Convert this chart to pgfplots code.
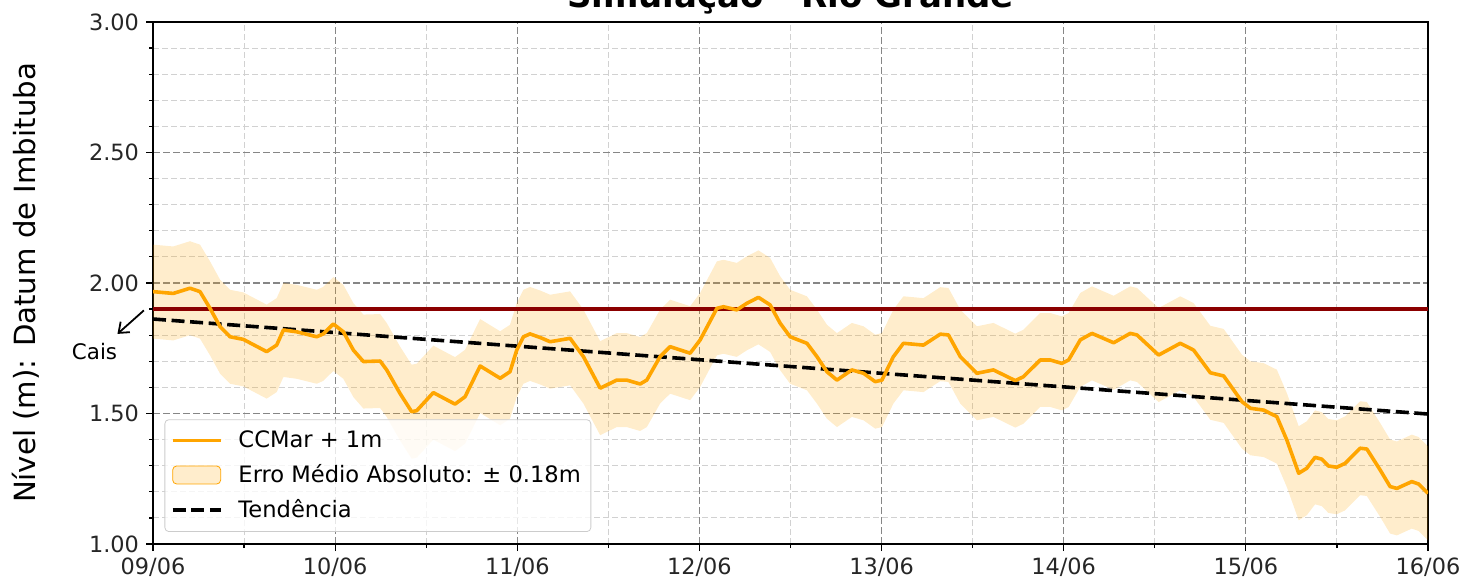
\documentclass[border=0pt]{standalone}
\usepackage{fontspec}
\setmainfont{DejaVu Sans}
\usepackage{pgfplots}
\pgfplotsset{compat=1.18}
\usepackage{pgfplotstable}
\usepgfplotslibrary{fillbetween}
\usetikzlibrary{arrows.meta}

\definecolor{c_line}{HTML}{FFA500}
\definecolor{c_cais}{HTML}{8B0000}

% d = days since 09/06, v = level, u/l = level +/- 0.18
\pgfplotstableread{
d v u l
0.000 1.967 2.147 1.787
0.111 1.960 2.140 1.780
0.203 1.980 2.160 1.800
0.258 1.967 2.147 1.787
0.313 1.903 2.083 1.723
0.368 1.833 2.013 1.653
0.423 1.794 1.974 1.614
0.496 1.784 1.964 1.604
0.624 1.737 1.917 1.557
0.679 1.762 1.942 1.582
0.716 1.820 2.000 1.640
0.789 1.813 1.993 1.633
0.899 1.794 1.974 1.614
0.935 1.805 1.985 1.625
0.990 1.843 2.023 1.663
1.045 1.813 1.993 1.633
1.100 1.743 1.923 1.563
1.155 1.699 1.879 1.519
1.247 1.701 1.881 1.521
1.283 1.667 1.847 1.487
1.356 1.577 1.757 1.397
1.420 1.507 1.687 1.327
1.448 1.511 1.691 1.331
1.539 1.580 1.760 1.400
1.658 1.536 1.716 1.356
1.713 1.564 1.744 1.384
1.796 1.682 1.862 1.502
1.906 1.635 1.815 1.455
1.960 1.660 1.840 1.480
1.997 1.743 1.923 1.563
2.034 1.794 1.974 1.614
2.070 1.805 1.985 1.625
2.130 1.790 1.970 1.610
2.180 1.775 1.955 1.595
2.290 1.788 1.968 1.608
2.363 1.718 1.898 1.538
2.455 1.597 1.777 1.417
2.546 1.628 1.808 1.448
2.601 1.628 1.808 1.448
2.674 1.613 1.793 1.433
2.711 1.628 1.808 1.448
2.784 1.718 1.898 1.538
2.839 1.756 1.936 1.576
2.949 1.731 1.911 1.551
3.004 1.782 1.962 1.602
3.096 1.903 2.083 1.723
3.132 1.909 2.089 1.729
3.205 1.897 2.077 1.717
3.260 1.922 2.102 1.742
3.324 1.945 2.125 1.765
3.388 1.916 2.096 1.736
3.443 1.846 2.026 1.666
3.498 1.794 1.974 1.614
3.590 1.769 1.949 1.589
3.645 1.718 1.898 1.538
3.700 1.660 1.840 1.480
3.755 1.628 1.808 1.448
3.837 1.667 1.847 1.487
3.901 1.654 1.834 1.474
3.965 1.622 1.802 1.442
4.002 1.628 1.808 1.448
4.065 1.718 1.898 1.538
4.120 1.769 1.949 1.589
4.230 1.762 1.942 1.582
4.322 1.804 1.984 1.624
4.367 1.801 1.981 1.621
4.432 1.718 1.898 1.538
4.523 1.654 1.834 1.474
4.614 1.667 1.847 1.487
4.734 1.626 1.806 1.446
4.779 1.641 1.821 1.461
4.871 1.705 1.885 1.525
4.926 1.705 1.885 1.525
4.990 1.692 1.872 1.512
5.027 1.705 1.885 1.525
5.091 1.782 1.962 1.602
5.155 1.807 1.987 1.627
5.274 1.771 1.951 1.591
5.365 1.807 1.987 1.627
5.402 1.801 1.981 1.621
5.521 1.724 1.904 1.544
5.640 1.769 1.949 1.589
5.713 1.743 1.923 1.563
5.805 1.656 1.836 1.476
5.878 1.644 1.824 1.464
5.933 1.590 1.770 1.410
5.979 1.545 1.725 1.365
6.025 1.520 1.700 1.340
6.098 1.513 1.693 1.333
6.135 1.500 1.680 1.320
6.170 1.488 1.668 1.308
6.225 1.398 1.578 1.218
6.290 1.271 1.451 1.091
6.334 1.290 1.470 1.110
6.380 1.332 1.512 1.152
6.417 1.325 1.505 1.145
6.453 1.299 1.479 1.119
6.499 1.294 1.474 1.114
6.545 1.309 1.489 1.129
6.627 1.367 1.547 1.187
6.664 1.364 1.544 1.184
6.737 1.284 1.464 1.104
6.792 1.220 1.400 1.040
6.829 1.213 1.393 1.033
6.911 1.239 1.419 1.059
6.948 1.230 1.410 1.050
7.000 1.194 1.374 1.014
}\nivel

\begin{document}
\begin{tikzpicture}
  \begin{axis}[
    name=ax,
    scale only axis, width=637.5pt, height=261pt,
    xmin=0, xmax=7, ymin=1, ymax=3,
    xtick={0,1,2,3,4,5,6,7},
    xticklabels={09/06,10/06,11/06,12/06,13/06,14/06,15/06,16/06},
    minor x tick num=1,
    ytick={1,1.5,2,2.5,3},
    minor y tick num=4,
    /pgf/number format/assume math mode=true,
    yticklabel style={/pgf/number format/.cd, fixed, fixed zerofill, precision=2},
    tick label style={font=\fontsize{11.2}{13}\selectfont, text=black!85},
    tick pos=left, tick align=outside,
    major tick length=3.5pt, minor tick length=2pt,
    every tick/.style={black, line width=0.6pt},
    axis line style={line width=1pt},
    grid=both,
    major grid style={gray!95, line width=0.6pt, dash pattern=on 3.5pt off 1.5pt},
    minor grid style={black!18, line width=0.5pt, dash pattern=on 3pt off 1.5pt},
    ylabel={Nível (m): Datum de Imbituba},
    ylabel style={font=\fontsize{14.6}{17}\selectfont},
    ylabel shift=18pt,
    legend cell align=left,
    legend style={at={(0.009,0.023)}, anchor=south west,
      draw=black!20, rounded corners=2pt, fill=white, fill opacity=0.8, text opacity=1,
      font=\fontsize{11.3}{13}\selectfont, row sep=3pt, column sep=6pt,
      inner xsep=3pt, inner ysep=3.5pt},
  ]
  % faixa de erro
  \addplot[name path=U, draw=none, forget plot] table[x=d, y=u] {\nivel};
  \addplot[name path=L, draw=none, forget plot] table[x=d, y=l] {\nivel};
  \addplot[c_line, fill opacity=0.2, draw=none, forget plot] fill between[of=U and L];
  % cais
  \addplot[c_cais, line width=1.8pt, forget plot] coordinates {(0,1.90) (7,1.90)};
  % tendencia
  \addplot[black, line width=1.8pt, dash pattern=on 6.5pt off 2.8pt, forget plot]
    coordinates {(0,1.862) (7,1.498)};
  % serie
  \addplot[c_line, line width=1.8pt, line join=round, forget plot] table[x=d, y=v] {\nivel};

  \addlegendimage{legend image code/.code={\draw[c_line, line width=1.8pt] (0pt,0pt) -- (24pt,0pt);}}
  \addlegendentry{CCMar + 1m}
  \addlegendimage{legend image code/.code={\fill[c_line, fill opacity=0.2] (0pt,-4.5pt) rectangle (24pt,4.5pt);}}
  \addlegendentry{Erro Médio Absoluto: ± 0.18m}
  \addlegendimage{legend image code/.code={\draw[black, line width=1.8pt, dash pattern=on 6.5pt off 2.8pt] (0pt,0pt) -- (24pt,0pt);}}
  \addlegendentry{Tendência}

  \coordinate (caisT) at (axis cs:-0.05,1.895);
  \coordinate (caisH) at (axis cs:-0.195,1.805);
  \coordinate (caisL) at (axis cs:-0.321,1.736);
  \end{axis}
  \draw[-{Straight Barb[length=4.5pt,width=7pt]}, line width=0.9pt] (caisT) -- (caisH);
  \node[font=\fontsize{10.7}{12}\selectfont] at (caisL) {Cais};
  \node[font=\bfseries\fontsize{17}{20}\selectfont, anchor=base] at ([yshift=7pt]ax.north) {Simulação - Rio Grande};
  \pgfresetboundingbox
  \useasboundingbox ([shift={(-76.5pt,-19.5pt)}]ax.south west) rectangle ([shift={(17pt,11pt)}]ax.north east);
\end{tikzpicture}
\end{document}
